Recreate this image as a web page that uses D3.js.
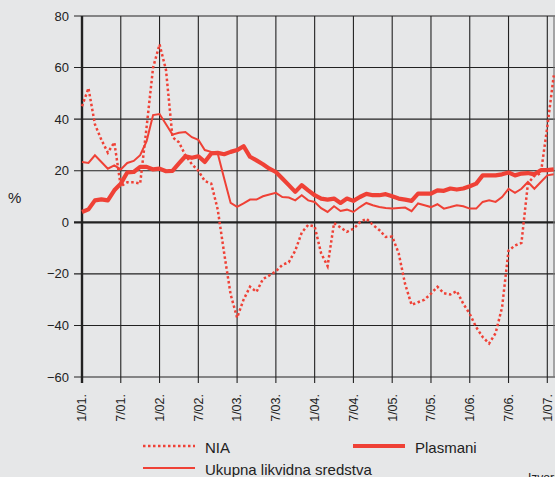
<!DOCTYPE html>
<html>
<head>
<meta charset="utf-8">
<script src="https://cdn.jsdelivr.net/npm/d3@7"></script>
<style>
  body { margin: 0; background: #e6e7e8; }
  svg { display: block; font-family: "Liberation Sans", Arial, sans-serif; }
</style>
</head>
<body>
<div id="chart"></div>
<script>
// monthly values, Jan 2001 .. Feb 2007
const nia = [45, 52, 38, 32, 27, 31, 14, 15.5, 15.5, 15, 37, 60, 69, 59, 33, 31, 26, 22.5, 20, 16,
  15, 5, -12, -28, -37, -30, -25, -27, -22, -20.6, -19, -16.5, -15.5, -11, -4, -1, -1.6, -12, -17, -0.3,
  -2, -3.7, -2.5, 0, 1.4, -1, -3, -5.7, -5.5, -12, -24, -32, -31, -30, -27.7, -25, -27.5, -28, -26.7, -31.6,
  -35.5, -40.7, -44.5, -47, -43, -33, -11, -9, -8, 15, 18, 19, 37, 57];
const likvidna = [23.4, 23, 26, 23.4, 20.8, 22.1, 20.5, 23, 23.8, 26, 31.5, 41.6, 42, 38, 34, 34.7, 35, 33, 32, 28,
  27.3, 26.7, 17, 7.5, 6, 7.3, 8.8, 8.8, 10.1, 10.8, 11.4, 9.8, 9.6, 8.5, 10.5, 8.5, 7.9, 5.5, 4, 6.2,
  4.4, 4.9, 4, 5.9, 7.5, 6.6, 5.9, 5.5, 5.3, 5.5, 5.7, 4.3, 7.3, 6.6, 5.9, 7, 5.3, 5.9, 6.6, 6.2,
  5.3, 5.3, 7.9, 8.5, 7.9, 9.8, 13, 11.4, 13, 15.6, 13, 15.6, 18.2, 18.6];
const plasmani = [4, 5, 8.5, 8.9, 8.5, 12.4, 15, 19.3, 19.5, 21.5, 21.5, 20.5, 20.8, 19.8, 19.9, 22.8, 25.6, 25, 25.6, 23.4,
  26.7, 26.9, 26.4, 27.3, 28, 29.5, 25.4, 24, 22.5, 20.8, 19.5, 17, 14.4, 11.8, 14.4, 12.4, 10.5, 9.2, 8.8, 9.2,
  7.5, 9.2, 8.3, 9.8, 11, 10.5, 10.5, 10.9, 10.1, 9.2, 8.8, 8.3, 11.1, 11.1, 11.1, 12.4, 12.2, 13.1, 12.7, 13.1,
  14, 15, 18.2, 18.2, 18.2, 18.6, 19.3, 18.2, 18.9, 19.1, 18.6, 20.2, 20.2, 20.5];
const xTickLabels = ["1/01.", "7/01.", "1/02.", "7/02.", "1/03.", "7/03.", "1/04.", "7/04.",
  "1/05.", "7/05.", "1/06.", "7/06.", "1/07."];
const yTicks = [-60, -40, -20, 0, 20, 40, 60, 80];

const W = 555, H = 477;
const red = "#ef4136";
const plotLeft = 82, plotRight = 554, plotTop = 16, plotBottom = 377;

const svg = d3.select("#chart").append("svg")
    .attr("width", W)
    .attr("height", H);

const x = d3.scaleLinear().domain([0, 72]).range([plotLeft, 547.3]);
const y = d3.scaleLinear().domain([-60, 80]).range([plotBottom, plotTop]);

// grid
const grid = svg.append("g");
grid.selectAll("line.h")
    .data(yTicks)
    .enter().append("line")
    .attr("x1", plotLeft - 8).attr("x2", W)
    .attr("y1", d => y(d)).attr("y2", d => y(d))
    .attr("stroke", "#222")
    .attr("stroke-width", d => d === 0 ? 2.2 : 1.1);

grid.selectAll("line.v")
    .data(xTickLabels)
    .enter().append("line")
    .attr("x1", (d, i) => x(i * 6)).attr("x2", (d, i) => x(i * 6))
    .attr("y1", plotTop).attr("y2", plotBottom + 6)
    .attr("stroke", "#222")
    .attr("stroke-width", (d, i) => i === 0 ? 2.4 : 1.1);

grid.append("line")
    .attr("x1", plotRight).attr("x2", plotRight)
    .attr("y1", plotTop).attr("y2", plotBottom)
    .attr("stroke", "#777").attr("stroke-width", 1.2);

// y labels
svg.append("g").selectAll("text")
    .data(yTicks)
    .enter().append("text")
    .attr("x", 69)
    .attr("y", d => y(d))
    .attr("dy", "0.35em")
    .attr("text-anchor", "end")
    .attr("font-size", 13)
    .attr("fill", "#222")
    .text(d => d < 0 ? "\u2212" + Math.abs(d) : d);

svg.append("text")
    .attr("x", 8).attr("y", 203)
    .attr("font-size", 15)
    .attr("fill", "#222")
    .text("%");

// x labels
svg.append("g").selectAll("text")
    .data(xTickLabels)
    .enter().append("text")
    .attr("transform", (d, i) => "translate(" + x(i * 6) + ",394) rotate(-90)")
    .attr("dy", "0.35em")
    .attr("text-anchor", "end")
    .attr("font-size", 12.5)
    .attr("fill", "#222")
    .text(d => d);

// series
const line = d3.line()
    .x((d, i) => x(i))
    .y(d => y(d));

svg.append("path")
    .datum(nia)
    .attr("d", line)
    .attr("fill", "none")
    .attr("stroke", red)
    .attr("stroke-width", 2.5)
    .attr("stroke-dasharray", "2.5,2.5");

svg.append("path")
    .datum(likvidna)
    .attr("d", line)
    .attr("fill", "none")
    .attr("stroke", red)
    .attr("stroke-width", 2);

svg.append("path")
    .datum(plasmani)
    .attr("d", line)
    .attr("fill", "none")
    .attr("stroke", red)
    .attr("stroke-width", 4.2)
    .attr("stroke-linejoin", "round");

// legend
const legend = [
  {name: "NIA", x: 143, y: 446, w: 2.5, dash: "2.5,2.5"},
  {name: "Plasmani", x: 353, y: 446, w: 4.2, dash: null},
  {name: "Ukupna likvidna sredstva", x: 143, y: 468, w: 2, dash: null}
];
const lg = svg.append("g").selectAll("g")
    .data(legend)
    .enter().append("g");
lg.append("line")
    .attr("x1", d => d.x).attr("x2", d => d.x + 52)
    .attr("y1", d => d.y).attr("y2", d => d.y)
    .attr("stroke", red)
    .attr("stroke-width", d => d.w)
    .attr("stroke-dasharray", d => d.dash);
lg.append("text")
    .attr("x", d => d.x + 62)
    .attr("y", d => d.y + 7)
    .attr("font-size", 15)
    .attr("fill", "#222")
    .text(d => d.name);

// source note, cut off by the right edge as in the original
svg.append("text")
    .attr("x", 528).attr("y", 482)
    .attr("font-size", 12)
    .attr("fill", "#222")
    .text("Izvor: NBS.");
</script>
</body>
</html>
